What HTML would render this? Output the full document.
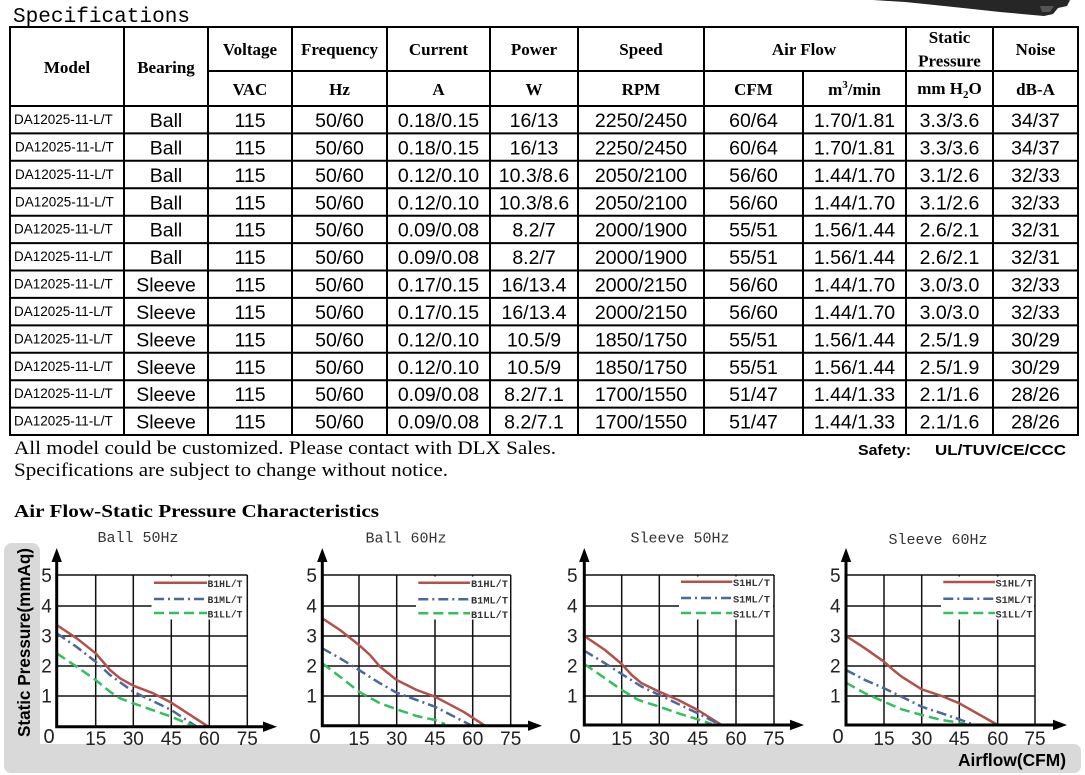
<!DOCTYPE html>
<html><head><meta charset="utf-8"><style>
html,body{margin:0;padding:0;background:#fff;}
svg{display:block;}
.h{font-family:"Liberation Serif",serif;font-weight:bold;font-size:17px;fill:#000;}
.d{font-family:"Liberation Sans",sans-serif;font-size:19.5px;fill:#000;}
.m{font-family:"Liberation Sans",sans-serif;font-size:13.5px;fill:#000;}
.t{font-family:"Liberation Sans",sans-serif;font-size:19px;fill:#222;}
.z{font-size:20px;}
.lg{font-family:"Liberation Mono",monospace;font-weight:bold;font-size:10.5px;fill:#333;}
.ct{font-family:"Liberation Mono",monospace;font-size:15px;fill:#333;}
.g{stroke:#111;stroke-width:1.5;fill:none;}
.ax{stroke:#000;stroke-width:3;fill:none;}
.r{stroke:#b3504a;stroke-width:2.5;fill:none;stroke-linejoin:round;}
.b{stroke:#48689e;stroke-width:2.5;fill:none;stroke-dasharray:10 4 2 4;}
.gr{stroke:#30c05c;stroke-width:2.5;fill:none;stroke-dasharray:10 5;}
</style></head><body>
<svg width="1085" height="775" viewBox="0 0 1085 775" xmlns="http://www.w3.org/2000/svg">
<rect width="1085" height="775" fill="#fff"/>
<path d="M873,0 L1070,0 L1067,6 L1058,8 L1053,14 L1044,16 L1000,12 Q945,6 905,2 Z" fill="#262626"/>
<path d="M1040,6 L1054,6 L1050,12 L1042,12 Z" fill="#555"/>
<text x="13" y="22" font-family="Liberation Mono, monospace" font-size="21" fill="#000" textLength="177" lengthAdjust="spacingAndGlyphs">Specifications</text>

<g stroke="#000" stroke-width="2">
<line x1="9" y1="27" x2="1079" y2="27"/>
<line x1="208" y1="71" x2="1079" y2="71"/>
<line x1="9" y1="106" x2="1079" y2="106"/>
<line x1="9" y1="133.4" x2="1079" y2="133.4"/>
<line x1="9" y1="160.8" x2="1079" y2="160.8"/>
<line x1="9" y1="188.3" x2="1079" y2="188.3"/>
<line x1="9" y1="215.7" x2="1079" y2="215.7"/>
<line x1="9" y1="243.1" x2="1079" y2="243.1"/>
<line x1="9" y1="270.5" x2="1079" y2="270.5"/>
<line x1="9" y1="297.9" x2="1079" y2="297.9"/>
<line x1="9" y1="325.4" x2="1079" y2="325.4"/>
<line x1="9" y1="352.8" x2="1079" y2="352.8"/>
<line x1="9" y1="380.2" x2="1079" y2="380.2"/>
<line x1="9" y1="407.6" x2="1079" y2="407.6"/>
<line x1="9" y1="435" x2="1079" y2="435"/>
<line x1="10" y1="26" x2="10" y2="436"/>
<line x1="124" y1="26" x2="124" y2="436"/>
<line x1="208" y1="26" x2="208" y2="436"/>
<line x1="292" y1="26" x2="292" y2="436"/>
<line x1="387" y1="26" x2="387" y2="436"/>
<line x1="490" y1="26" x2="490" y2="436"/>
<line x1="578" y1="26" x2="578" y2="436"/>
<line x1="704" y1="26" x2="704" y2="436"/>
<line x1="803" y1="71" x2="803" y2="436"/>
<line x1="906" y1="26" x2="906" y2="436"/>
<line x1="993" y1="26" x2="993" y2="436"/>
<line x1="1078" y1="26" x2="1078" y2="436"/>
</g>

<g class="h" text-anchor="middle">
<text x="67" y="73">Model</text>
<text x="166" y="73">Bearing</text>
<text x="250" y="55">Voltage</text>
<text x="339.5" y="55">Frequency</text>
<text x="438.5" y="55">Current</text>
<text x="534" y="55">Power</text>
<text x="641" y="55">Speed</text>
<text x="804" y="55">Air Flow</text>
<text x="949.5" y="43">Static</text>
<text x="949.5" y="66.5">Pressure</text>
<text x="1035.5" y="55">Noise</text>
<text x="250" y="95">VAC</text>
<text x="339.5" y="95">Hz</text>
<text x="438.5" y="95">A</text>
<text x="534" y="95">W</text>
<text x="641" y="95">RPM</text>
<text x="753.5" y="95">CFM</text>
<text x="854.5" y="95">m<tspan dy="-7" font-size="11">3</tspan><tspan dy="7">/min</tspan></text>
<text x="949.5" y="94">mm H<tspan dy="4" font-size="11">2</tspan><tspan dy="-4">O</tspan></text>
<text x="1035.5" y="95">dB-A</text>
</g>

<g transform="translate(0,106)">
<text class="m" x="14" y="18">DA12025-11-L/T</text>
<g class="d" text-anchor="middle"><text x="166" y="21">Ball</text><text x="250" y="21">115</text><text x="339.5" y="21">50/60</text><text x="438.5" y="21">0.18/0.15</text><text x="534" y="21">16/13</text><text x="641" y="21">2250/2450</text><text x="753.5" y="21">60/64</text><text x="854.5" y="21">1.70/1.81</text><text x="949.5" y="21">3.3/3.6</text><text x="1035.5" y="21">34/37</text></g>
</g>
<g transform="translate(0,133.4)">
<text class="m" x="15" y="18">DA12025-11-L/T</text>
<g class="d" text-anchor="middle"><text x="166" y="21">Ball</text><text x="250" y="21">115</text><text x="339.5" y="21">50/60</text><text x="438.5" y="21">0.18/0.15</text><text x="534" y="21">16/13</text><text x="641" y="21">2250/2450</text><text x="753.5" y="21">60/64</text><text x="854.5" y="21">1.70/1.81</text><text x="949.5" y="21">3.3/3.6</text><text x="1035.5" y="21">34/37</text></g>
</g>
<g transform="translate(0,160.8)">
<text class="m" x="15" y="18">DA12025-11-L/T</text>
<g class="d" text-anchor="middle"><text x="166" y="21">Ball</text><text x="250" y="21">115</text><text x="339.5" y="21">50/60</text><text x="438.5" y="21">0.12/0.10</text><text x="534" y="21">10.3/8.6</text><text x="641" y="21">2050/2100</text><text x="753.5" y="21">56/60</text><text x="854.5" y="21">1.44/1.70</text><text x="949.5" y="21">3.1/2.6</text><text x="1035.5" y="21">32/33</text></g>
</g>
<g transform="translate(0,188.3)">
<text class="m" x="15" y="18">DA12025-11-L/T</text>
<g class="d" text-anchor="middle"><text x="166" y="21">Ball</text><text x="250" y="21">115</text><text x="339.5" y="21">50/60</text><text x="438.5" y="21">0.12/0.10</text><text x="534" y="21">10.3/8.6</text><text x="641" y="21">2050/2100</text><text x="753.5" y="21">56/60</text><text x="854.5" y="21">1.44/1.70</text><text x="949.5" y="21">3.1/2.6</text><text x="1035.5" y="21">32/33</text></g>
</g>
<g transform="translate(0,215.7)">
<text class="m" x="14" y="18">DA12025-11-L/T</text>
<g class="d" text-anchor="middle"><text x="166" y="21">Ball</text><text x="250" y="21">115</text><text x="339.5" y="21">50/60</text><text x="438.5" y="21">0.09/0.08</text><text x="534" y="21">8.2/7</text><text x="641" y="21">2000/1900</text><text x="753.5" y="21">55/51</text><text x="854.5" y="21">1.56/1.44</text><text x="949.5" y="21">2.6/2.1</text><text x="1035.5" y="21">32/31</text></g>
</g>
<g transform="translate(0,243.1)">
<text class="m" x="14" y="18">DA12025-11-L/T</text>
<g class="d" text-anchor="middle"><text x="166" y="21">Ball</text><text x="250" y="21">115</text><text x="339.5" y="21">50/60</text><text x="438.5" y="21">0.09/0.08</text><text x="534" y="21">8.2/7</text><text x="641" y="21">2000/1900</text><text x="753.5" y="21">55/51</text><text x="854.5" y="21">1.56/1.44</text><text x="949.5" y="21">2.6/2.1</text><text x="1035.5" y="21">32/31</text></g>
</g>
<g transform="translate(0,270.5)">
<text class="m" x="14" y="18">DA12025-11-L/T</text>
<g class="d" text-anchor="middle"><text x="166" y="21">Sleeve</text><text x="250" y="21">115</text><text x="339.5" y="21">50/60</text><text x="438.5" y="21">0.17/0.15</text><text x="534" y="21">16/13.4</text><text x="641" y="21">2000/2150</text><text x="753.5" y="21">56/60</text><text x="854.5" y="21">1.44/1.70</text><text x="949.5" y="21">3.0/3.0</text><text x="1035.5" y="21">32/33</text></g>
</g>
<g transform="translate(0,297.9)">
<text class="m" x="14" y="18">DA12025-11-L/T</text>
<g class="d" text-anchor="middle"><text x="166" y="21">Sleeve</text><text x="250" y="21">115</text><text x="339.5" y="21">50/60</text><text x="438.5" y="21">0.17/0.15</text><text x="534" y="21">16/13.4</text><text x="641" y="21">2000/2150</text><text x="753.5" y="21">56/60</text><text x="854.5" y="21">1.44/1.70</text><text x="949.5" y="21">3.0/3.0</text><text x="1035.5" y="21">32/33</text></g>
</g>
<g transform="translate(0,325.4)">
<text class="m" x="14" y="18">DA12025-11-L/T</text>
<g class="d" text-anchor="middle"><text x="166" y="21">Sleeve</text><text x="250" y="21">115</text><text x="339.5" y="21">50/60</text><text x="438.5" y="21">0.12/0.10</text><text x="534" y="21">10.5/9</text><text x="641" y="21">1850/1750</text><text x="753.5" y="21">55/51</text><text x="854.5" y="21">1.56/1.44</text><text x="949.5" y="21">2.5/1.9</text><text x="1035.5" y="21">30/29</text></g>
</g>
<g transform="translate(0,352.8)">
<text class="m" x="14" y="18">DA12025-11-L/T</text>
<g class="d" text-anchor="middle"><text x="166" y="21">Sleeve</text><text x="250" y="21">115</text><text x="339.5" y="21">50/60</text><text x="438.5" y="21">0.12/0.10</text><text x="534" y="21">10.5/9</text><text x="641" y="21">1850/1750</text><text x="753.5" y="21">55/51</text><text x="854.5" y="21">1.56/1.44</text><text x="949.5" y="21">2.5/1.9</text><text x="1035.5" y="21">30/29</text></g>
</g>
<g transform="translate(0,380.2)">
<text class="m" x="14" y="18">DA12025-11-L/T</text>
<g class="d" text-anchor="middle"><text x="166" y="21">Sleeve</text><text x="250" y="21">115</text><text x="339.5" y="21">50/60</text><text x="438.5" y="21">0.09/0.08</text><text x="534" y="21">8.2/7.1</text><text x="641" y="21">1700/1550</text><text x="753.5" y="21">51/47</text><text x="854.5" y="21">1.44/1.33</text><text x="949.5" y="21">2.1/1.6</text><text x="1035.5" y="21">28/26</text></g>
</g>
<g transform="translate(0,407.6)">
<text class="m" x="14" y="18">DA12025-11-L/T</text>
<g class="d" text-anchor="middle"><text x="166" y="21">Sleeve</text><text x="250" y="21">115</text><text x="339.5" y="21">50/60</text><text x="438.5" y="21">0.09/0.08</text><text x="534" y="21">8.2/7.1</text><text x="641" y="21">1700/1550</text><text x="753.5" y="21">51/47</text><text x="854.5" y="21">1.44/1.33</text><text x="949.5" y="21">2.1/1.6</text><text x="1035.5" y="21">28/26</text></g>
</g>

<text x="14" y="454" font-family="Liberation Serif, serif" font-size="19" fill="#000" textLength="542" lengthAdjust="spacingAndGlyphs">All model could be customized. Please contact with DLX Sales.</text>
<text x="14" y="476" font-family="Liberation Serif, serif" font-size="19" fill="#000" textLength="434" lengthAdjust="spacingAndGlyphs">Specifications are subject to change without notice.</text>
<text x="858" y="455" font-family="Liberation Sans, sans-serif" font-weight="bold" font-size="15" fill="#000" textLength="53" lengthAdjust="spacingAndGlyphs">Safety:</text>
<text x="935" y="455" font-family="Liberation Sans, sans-serif" font-weight="bold" font-size="15" fill="#000" textLength="131" lengthAdjust="spacingAndGlyphs">UL/TUV/CE/CCC</text>
<text x="14" y="517" font-family="Liberation Serif, serif" font-weight="bold" font-size="18" fill="#000" textLength="365" lengthAdjust="spacingAndGlyphs">Air Flow-Static Pressure Characteristics</text>

<rect x="4" y="543" width="36" height="230" rx="8" fill="#d9d9d9"/>
<rect x="4" y="744" width="1077" height="29" rx="7" fill="#d9d9d9"/>
<text transform="translate(30,642.5) rotate(-90)" text-anchor="middle" font-family="Liberation Sans, sans-serif" font-weight="bold" font-size="17.5" fill="#000" textLength="189" lengthAdjust="spacingAndGlyphs">Static Pressure(mmAq)</text>
<text x="958" y="766" font-family="Liberation Sans, sans-serif" font-weight="bold" font-size="17.5" fill="#000" textLength="108" lengthAdjust="spacingAndGlyphs">Airflow(CFM)</text>

<!-- CHART 1 -->
<g>
<text class="ct" x="138" y="542" text-anchor="middle">Ball 50Hz</text>
<g class="g">
<line x1="56.7" y1="575" x2="247.3" y2="575"/><line x1="56.7" y1="606" x2="247.3" y2="606"/><line x1="56.7" y1="636" x2="247.3" y2="636"/><line x1="56.7" y1="666" x2="247.3" y2="666"/><line x1="56.7" y1="696" x2="247.3" y2="696"/>
<line x1="95.7" y1="575" x2="95.7" y2="727"/><line x1="133.3" y1="575" x2="133.3" y2="727"/><line x1="171.3" y1="575" x2="171.3" y2="727"/><line x1="209.3" y1="575" x2="209.3" y2="727"/><line x1="247.3" y1="575" x2="247.3" y2="727"/>
</g>
<rect x="151.5" y="576.5" width="95" height="43" fill="#fff"/>
<line class="r" x1="154" y1="582.7" x2="207" y2="582.7"/><text class="lg" x="207.5" y="587" textLength="35" lengthAdjust="spacingAndGlyphs">B1HL/T</text>
<line class="b" x1="154" y1="599" x2="207" y2="599"/><text class="lg" x="207.5" y="603" textLength="35" lengthAdjust="spacingAndGlyphs">B1ML/T</text>
<line class="gr" x1="154" y1="613" x2="207" y2="613"/><text class="lg" x="207.5" y="617.5" textLength="35" lengthAdjust="spacingAndGlyphs">B1LL/T</text>
<polyline class="r" points="56.7,625 76.7,638.3 95.7,653.3 110,670 120,678.3 133.3,685.7 153.3,693.3 171.3,702.7 186.7,712.7 208.3,726.7"/>
<polyline class="b" points="56.7,633.3 76.7,647 95.7,661.7 110,675 133.3,691.7 171.3,710 196.7,726.7"/>
<polyline class="gr" points="56.7,653.3 76.7,666.7 95.7,680 110,691.7 120,698.3 133.3,703.3 171.3,716.7 195,726.7"/>
<path class="ax" d="M56.7,728 L56.7,560 M55.2,726.7 L265,726.7"/>
<path d="M56.7,548 L51.5,562 L61.9,562 Z M277,726.7 L263,721.5 L263,731.9 Z" fill="#000"/>
<g class="t" text-anchor="middle">
<text x="46.5" y="582">5</text><text x="46.5" y="612.5">4</text><text x="46.5" y="642.5">3</text><text x="46.5" y="672.5">2</text><text x="46.5" y="702.5">1</text>
<text class="z" x="49" y="743">0</text><text x="95.7" y="745">15</text><text x="133.3" y="745">30</text><text x="171.3" y="745">45</text><text x="209.3" y="745">60</text><text x="247.3" y="745">75</text>
</g>
</g>

<!-- CHART 2 -->
<g>
<text class="ct" x="406" y="542.5" text-anchor="middle">Ball 60Hz</text>
<g class="g">
<line x1="322.3" y1="575" x2="510.7" y2="575"/><line x1="322.3" y1="606" x2="510.7" y2="606"/><line x1="322.3" y1="636" x2="510.7" y2="636"/><line x1="322.3" y1="666" x2="510.7" y2="666"/><line x1="322.3" y1="696" x2="510.7" y2="696"/>
<line x1="359" y1="575" x2="359" y2="726"/><line x1="396.7" y1="575" x2="396.7" y2="726"/><line x1="435" y1="575" x2="435" y2="726"/><line x1="472.7" y1="575" x2="472.7" y2="726"/><line x1="510.7" y1="575" x2="510.7" y2="726"/>
</g>
<rect x="416" y="576.5" width="94" height="43" fill="#fff"/>
<line class="r" x1="418.3" y1="582.7" x2="470" y2="582.7"/><text class="lg" x="471" y="587" textLength="37" lengthAdjust="spacingAndGlyphs">B1HL/T</text>
<line class="b" x1="418.3" y1="599.3" x2="470" y2="599.3"/><text class="lg" x="471" y="603.5" textLength="37" lengthAdjust="spacingAndGlyphs">B1ML/T</text>
<line class="gr" x1="418.3" y1="613.3" x2="470" y2="613.3"/><text class="lg" x="471" y="618" textLength="37" lengthAdjust="spacingAndGlyphs">B1LL/T</text>
<polyline class="r" points="322.3,618.3 340,630 359,645 370,655 380,666.7 396.7,680 416.7,690 435,696.7 463.3,711.7 485,725.7"/>
<polyline class="b" points="322.3,648.3 340,658.3 359,670 380,683.3 396.7,692.7 435,706.7 471.7,725.7"/>
<polyline class="gr" points="322.3,663.3 340,676.7 359,691.7 380,703.3 396.7,709.3 416.7,716 435,720 445,724"/>
<path class="ax" d="M322.3,727 L322.3,560 M320.8,725.7 L530,725.7"/>
<path d="M322.3,548 L317.1,562 L327.5,562 Z M542,725.7 L528,720.5 L528,730.9 Z" fill="#000"/>
<g class="t" text-anchor="middle">
<text x="311.7" y="582">5</text><text x="311.7" y="612.5">4</text><text x="311.7" y="642.5">3</text><text x="311.7" y="672.5">2</text><text x="311.7" y="702.5">1</text>
<text class="z" x="315" y="743">0</text><text x="359" y="745">15</text><text x="396.7" y="745">30</text><text x="435" y="745">45</text><text x="472.7" y="745">60</text><text x="510.7" y="745">75</text>
</g>
</g>

<!-- CHART 3 -->
<g>
<text class="ct" x="680" y="542.5" text-anchor="middle">Sleeve 50Hz</text>
<g class="g">
<line x1="584.3" y1="575" x2="774" y2="575"/><line x1="584.3" y1="606" x2="774" y2="606"/><line x1="584.3" y1="636" x2="774" y2="636"/><line x1="584.3" y1="666" x2="774" y2="666"/><line x1="584.3" y1="696" x2="774" y2="696"/>
<line x1="621.7" y1="575" x2="621.7" y2="725"/><line x1="659.3" y1="575" x2="659.3" y2="725"/><line x1="697.7" y1="575" x2="697.7" y2="725"/><line x1="736" y1="575" x2="736" y2="725"/><line x1="774" y1="575" x2="774" y2="725"/>
</g>
<rect x="679" y="576.5" width="94" height="43" fill="#fff"/>
<line class="r" x1="681" y1="581.7" x2="732.3" y2="581.7"/><text class="lg" x="733" y="586" textLength="37" lengthAdjust="spacingAndGlyphs">S1HL/T</text>
<line class="b" x1="681" y1="598" x2="732.3" y2="598"/><text class="lg" x="733" y="602.5" textLength="37" lengthAdjust="spacingAndGlyphs">S1ML/T</text>
<line class="gr" x1="681" y1="613" x2="732.3" y2="613"/><text class="lg" x="733" y="617.5" textLength="37" lengthAdjust="spacingAndGlyphs">S1LL/T</text>
<polyline class="r" points="584.3,636 605,650 621.7,664 631.7,675 641.7,683.3 659.3,691.7 678.3,700 697.7,710 721.7,725"/>
<polyline class="b" points="584.3,650.7 605,663.3 621.7,674 641.7,686.7 659.3,695 697.7,713.3 720.7,725"/>
<polyline class="gr" points="584.3,664 605,678.3 621.7,690 638.3,700 659.3,706.7 678.3,713.3 697.7,719.3 711.7,724"/>
<path class="ax" d="M584.3,726.5 L584.3,560 M582.8,725 L792,725"/>
<path d="M584.3,548 L579.1,562 L589.5,562 Z M804,725 L790,719.8 L790,730.2 Z" fill="#000"/>
<g class="t" text-anchor="middle">
<text x="572.3" y="582">5</text><text x="572.3" y="612.5">4</text><text x="572.3" y="642.5">3</text><text x="572.3" y="672.5">2</text><text x="572.3" y="702.5">1</text>
<text class="z" x="575" y="743">0</text><text x="621.7" y="745">15</text><text x="659.3" y="745">30</text><text x="697.7" y="745">45</text><text x="736" y="745">60</text><text x="774" y="745">75</text>
</g>
</g>

<!-- CHART 4 -->
<g>
<text class="ct" x="938" y="544" text-anchor="middle">Sleeve 60Hz</text>
<g class="g">
<line x1="846" y1="575" x2="1035" y2="575"/><line x1="846" y1="606" x2="1035" y2="606"/><line x1="846" y1="636" x2="1035" y2="636"/><line x1="846" y1="666" x2="1035" y2="666"/><line x1="846" y1="696" x2="1035" y2="696"/>
<line x1="884" y1="575" x2="884" y2="725"/><line x1="921.7" y1="575" x2="921.7" y2="725"/><line x1="959.3" y1="575" x2="959.3" y2="725"/><line x1="997.7" y1="575" x2="997.7" y2="725"/><line x1="1035" y1="575" x2="1035" y2="725"/>
</g>
<rect x="941" y="576.5" width="93" height="43" fill="#fff"/>
<line class="r" x1="943.3" y1="582" x2="995" y2="582"/><text class="lg" x="995.5" y="586.5" textLength="37" lengthAdjust="spacingAndGlyphs">S1HL/T</text>
<line class="b" x1="943.3" y1="598.7" x2="995" y2="598.7"/><text class="lg" x="995.5" y="603" textLength="37" lengthAdjust="spacingAndGlyphs">S1ML/T</text>
<line class="gr" x1="943.3" y1="613" x2="995" y2="613"/><text class="lg" x="995.5" y="617.5" textLength="37" lengthAdjust="spacingAndGlyphs">S1LL/T</text>
<polyline class="r" points="846,636 865,648.3 884,661.7 893.3,670 901.7,676.7 921.7,689.3 941.7,696 959.3,703.3 997.7,725"/>
<polyline class="b" points="846,670 865,680 884,688.3 901.7,696.7 921.7,706.7 941.7,713.3 959.3,719.3 971.7,724"/>
<polyline class="gr" points="846,682.7 865,693.3 884,701.7 901.7,709.3 921.7,715 941.7,720 959.3,722.7 966.7,724.3"/>
<path class="ax" d="M846,726.5 L846,560 M844.5,725 L1055,725"/>
<path d="M846,548 L840.8,562 L851.2,562 Z M1067,725 L1053,719.8 L1053,730.2 Z" fill="#000"/>
<g class="t" text-anchor="middle">
<text x="835.3" y="582">5</text><text x="835.3" y="612.5">4</text><text x="835.3" y="642.5">3</text><text x="835.3" y="672.5">2</text><text x="835.3" y="702.5">1</text>
<text class="z" x="838" y="743">0</text><text x="884" y="745">15</text><text x="921.7" y="745">30</text><text x="959.3" y="745">45</text><text x="997.7" y="745">60</text><text x="1035" y="745">75</text>
</g>
</g>
</svg>
</body></html>
